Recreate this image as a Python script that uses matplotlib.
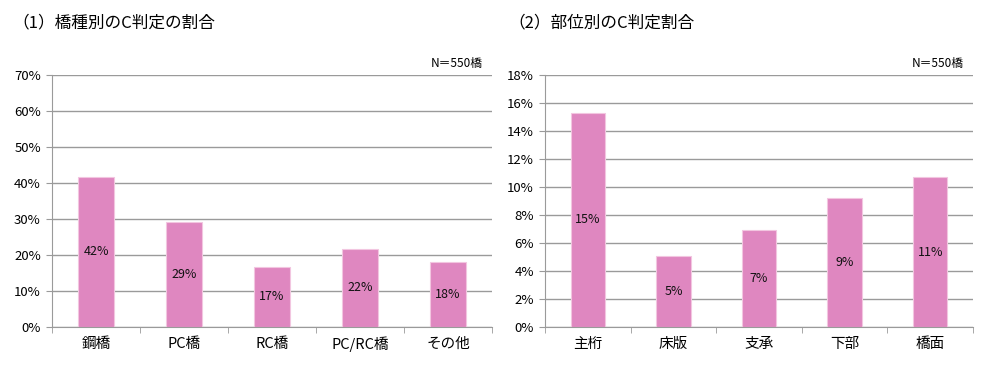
import matplotlib
matplotlib.use("Agg")
import matplotlib.pyplot as plt
from matplotlib.ticker import FuncFormatter, MultipleLocator

plt.rcParams["font.family"] = ["Noto Sans CJK JP", "DejaVu Sans"]

# (1) bridge types
types = ["鋼橋", "PC橋", "RC橋", "PC/RC橋", "その他"]
type_share = [0.417, 0.292, 0.167, 0.217, 0.181]
# (2) members
parts = ["主桁", "床版", "支承", "下部", "橋面"]
part_share = [0.153, 0.051, 0.069, 0.092, 0.107]

bar_color = "#DF87C0"
grid_color = "#9A9A9A"


def draw_panel(ax, cats, vals, ymax, step, title, title_x):
    x = range(len(cats))
    ax.set_axisbelow(True)
    ax.yaxis.grid(True, color=grid_color, linewidth=1.0)
    ax.bar(x, vals, width=0.4, color=bar_color, edgecolor="#F2C6E0", linewidth=0.8)
    for xi, v in zip(x, vals):
        ax.text(xi, v / 2, f"{v * 100:.0f}%", ha="center", va="center", fontsize=9, color="#111111")
    ax.set_xlim(-0.5, len(cats) - 0.5)
    ax.set_ylim(0, ymax)
    ax.yaxis.set_major_locator(MultipleLocator(step))
    ax.yaxis.set_major_formatter(FuncFormatter(lambda v, _: f"{v * 100:.0f}%"))
    ax.set_xticks(list(x))
    ax.set_xticklabels(cats, fontsize=10.5)
    ax.set_xticks([i - 0.5 for i in range(len(cats) + 1)], minor=True)
    ax.tick_params(axis="x", which="major", length=0, pad=7)
    ax.tick_params(axis="x", which="minor", length=4, color=grid_color, direction="out")
    ax.tick_params(axis="y", length=4, color=grid_color, labelsize=9.5, pad=4)
    for s in ("top", "right"):
        ax.spines[s].set_visible(False)
    for s in ("left", "bottom"):
        ax.spines[s].set_color(grid_color)
    ax.text(0.978, 1.02, "N＝550橋", transform=ax.transAxes, ha="right", va="bottom", fontsize=8.5)
    fig.text(title_x, 0.938, title, ha="left", va="center", fontsize=12)


fig = plt.figure(figsize=(10, 3.71), dpi=100)
ax1 = fig.add_axes([0.052, 0.1186, 0.44, 0.679])
ax2 = fig.add_axes([0.545, 0.1186, 0.428, 0.679])

draw_panel(ax1, types, type_share, 0.70, 0.10, "（1）橋種別のC判定の割合", 0.012)
draw_panel(ax2, parts, part_share, 0.18, 0.02, "（2）部位別のC判定割合", 0.508)

fig.savefig("out.png", dpi=100)
